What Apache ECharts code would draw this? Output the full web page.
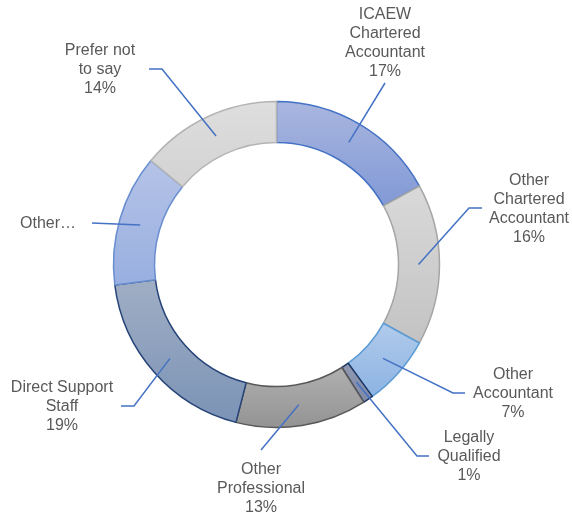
<!DOCTYPE html>
<html>
<head>
<meta charset="utf-8">
<script src="https://cdn.jsdelivr.net/npm/echarts@6/dist/echarts.min.js"></script>
<style>
  html, body { margin: 0; padding: 0; background: #fff; }
  #chart { width: 572px; height: 519px; }
</style>
</head>
<body>
<div id="chart"></div>
<script>
// label text as it wraps on the picture
const categories = [
  "ICAEW\nChartered\nAccountant",
  "Other\nChartered\nAccountant",
  "Other\nAccountant",
  "Legally\nQualified",
  "Other\nProfessional",
  "Direct Support\nStaff",
  "Other…",
  "Prefer not\nto say"
];
const shares = [17, 16, 7, 1, 13, 19, 13, 14];
// the truncated label on the picture shows no percentage
const showShare = [true, true, true, true, true, true, false, true];

// fill gradient top/bottom and outline per slice
const fillTop = ["#a9b6df", "#d9d9d9", "#b1cbeb", "#9198b1", "#b0b0b0", "#a0aec4", "#b5c3e7", "#dedede"];
const fillBottom = ["#8199d6", "#c3c3c3", "#8cb3e3", "#7f8aa8", "#939393", "#7b93b6", "#98afe0", "#d2d2d2"];
const outline = ["#4472c4", "#a5a5a5", "#5b9bd5", "#1f3864", "#595959", "#264478", "#698ed0", "#b4b4b4"];

// where each label sits: elbow of the leader, end of the leader, text anchor
const labelPlace = [
  { elbow: [385, 83], end: [385, 83], x: 385, y: 81, align: "center", va: "bottom" },
  { elbow: [469, 208], end: [482, 208], x: 529, y: 209, align: "center", va: "middle" },
  { elbow: [453, 393], end: [465, 393], x: 513, y: 394, align: "center", va: "middle" },
  { elbow: [417, 456], end: [429, 456], x: 469, y: 457, align: "center", va: "middle" },
  { elbow: [261, 450], end: [261, 450], x: 261, y: 460, align: "center", va: "top" },
  { elbow: [134, 406], end: [121, 406], x: 62, y: 407, align: "center", va: "middle" },
  { elbow: [92, 223], end: [92, 223], x: 76, y: 224, align: "right", va: "middle" },
  { elbow: [162, 69], end: [149, 69], x: 100, y: 70, align: "center", va: "middle" }
];

const chart = echarts.init(document.getElementById("chart"), null, { renderer: "canvas" });

const ringData = shares.map((v, i) => ({
  name: categories[i],
  value: v,
  itemStyle: {
    color: new echarts.graphic.LinearGradient(0, 0, 0, 1, [
      { offset: 0, color: fillTop[i] },
      { offset: 1, color: fillBottom[i] }
    ]),
    borderColor: outline[i],
    borderWidth: 1.5
  }
}));

const labelData = shares.map((v, i) => ({ name: categories[i], value: v }));

const option = {
  animation: false,
  backgroundColor: "#ffffff",
  series: [
    {
      type: "pie",
      z: 2,
      center: [276.5, 264.5],
      radius: [122, 163],
      startAngle: 90,
      clockwise: true,
      silent: true,
      label: { show: false },
      labelLine: { show: false },
      data: ringData
    },
    {
      // invisible helper: its outer edge is the middle of the ring, where leaders start
      type: "pie",
      z: 5,
      center: [276.5, 264.5],
      radius: [120, 142],
      startAngle: 90,
      clockwise: true,
      silent: true,
      avoidLabelOverlap: false,
      itemStyle: { color: "rgba(0,0,0,0)", borderWidth: 0 },
      label: {
        show: true,
        position: "outside",
        formatter: function (p) {
          return showShare[p.dataIndex] ? p.name + "\n" + p.value + "%" : p.name;
        },
        color: "#595959",
        fontFamily: "Liberation Sans, Arial, sans-serif",
        fontSize: 16,
        lineHeight: 19
      },
      labelLine: {
        show: true,
        length: 20,
        length2: 10,
        lineStyle: { color: "#4472c4", width: 1.5 }
      },
      labelLayout: function (params) {
        const p = labelPlace[params.dataIndex];
        const start = params.labelLinePoints[0];
        return {
          x: p.x,
          y: p.y,
          align: p.align,
          verticalAlign: p.va,
          labelLinePoints: [start, p.elbow, p.end]
        };
      },
      data: labelData
    }
  ]
};

chart.setOption(option);
</script>
</body>
</html>
